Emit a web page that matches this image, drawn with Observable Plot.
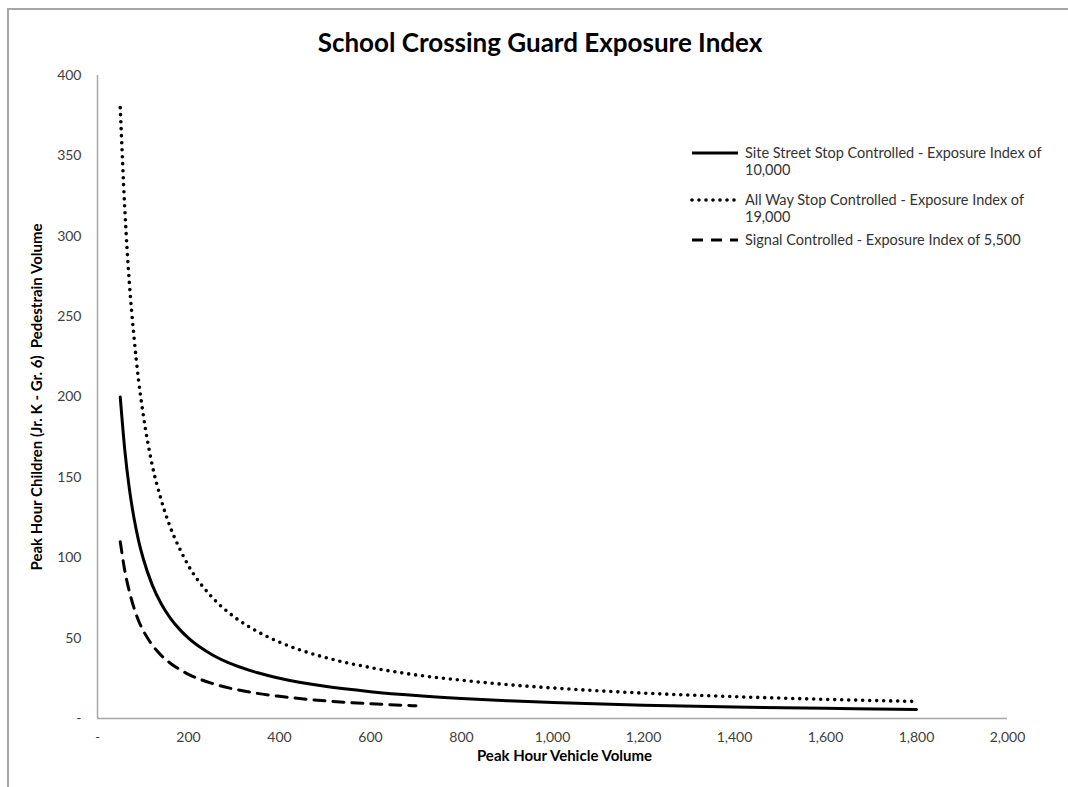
<!DOCTYPE html>
<html>
<head>
<meta charset="utf-8">
<script src="https://cdn.jsdelivr.net/npm/d3@7"></script>
<script src="https://cdn.jsdelivr.net/npm/@observablehq/plot@0.6"></script>
<style>
  html, body { margin: 0; padding: 0; background: #fff; }
  #page { position: relative; width: 1068px; height: 787px; overflow: hidden; font-family: Lato, "Open Sans", sans-serif; }
  #frame { position: absolute; left: 7px; top: 8px; width: 1100px; height: 800px; border-left: 2px solid #a6a6a6; border-top: 2px solid #a6a6a6; }
  #title { position: absolute; top: 26px; left: 0; width: 1080px; text-align: center; font-weight: bold; font-size: 26px; color: #000; }
  #chart { position: absolute; left: 0; top: 60px; }
  #legend { position: absolute; left: 690px; top: 144px; font-size: 14.5px; color: #333; }
  .item { display: flex; align-items: flex-start; margin-bottom: 13px; }
  .item:nth-child(2) { margin-bottom: 6px; }
  .item svg { flex: none; margin-right: 5px; margin-top: 2px; }
  .item div { line-height: 17px; width: 305px; }
</style>
</head>
<body>
<div id="page">
  <div id="frame"></div>
  <div id="title">School Crossing Guard Exposure Index</div>
  <div id="chart"></div>
  <div id="legend"></div>
</div>
<script>
// Series names
const seriesNames = [
  "Site Street Stop Controlled - Exposure Index of 10,000",
  "All Way Stop Controlled - Exposure Index of 19,000",
  "Signal Controlled - Exposure Index of 5,500"
];
// Peak hour vehicle volume (x)
const volumes = [50, 60, 70, 80, 90, 100, 120, 140, 160, 180, 200, 250, 300, 350, 400, 500, 600, 700, 800, 900, 1000, 1200, 1400, 1600, 1800];
const signalVolumes = [50, 60, 70, 80, 90, 100, 120, 140, 160, 180, 200, 250, 300, 350, 400, 500, 600, 700];
// Peak hour children pedestrian volume (y)
const siteStreet = [200, 167, 143, 125, 111, 100, 83.3, 71.4, 62.5, 55.6, 50, 40, 33.3, 28.6, 25, 20, 16.7, 14.3, 12.5, 11.1, 10, 8.3, 7.1, 6.3, 5.6];
const allWay = [380, 317, 271, 238, 211, 190, 158, 136, 119, 106, 95, 76, 63.3, 54.3, 47.5, 38, 31.7, 27.1, 23.8, 21.1, 19, 15.8, 13.6, 11.9, 10.6];
const signal = [110, 92, 79, 69, 61, 55, 45.8, 39.3, 34.4, 30.6, 27.5, 22, 18.3, 15.7, 13.8, 11, 9.2, 7.9];
// Ticks
const xTicks = [0, 200, 400, 600, 800, 1000, 1200, 1400, 1600, 1800, 2000];
const yTicks = [0, 50, 100, 150, 200, 250, 300, 350, 400];
const xLabel = "Peak Hour Vehicle Volume";
const yLabel = "Peak Hour Children (Jr. K - Gr. 6)  Pedestrain Volume";

const styles = [
  {stroke: "#000", strokeWidth: 3},
  {stroke: "#000", strokeWidth: 3.6, strokeDasharray: "0 7", strokeLinecap: "round"},
  {stroke: "#000", strokeWidth: 3, strokeDasharray: "11 8"}
];

const rows = (xs, ys, s) => xs.map((x, i) => ({x, y: ys[i], s}));
const data1 = rows(volumes, siteStreet, seriesNames[0]);
const data2 = rows(volumes, allWay, seriesNames[1]);
const data3 = rows(signalVolumes, signal, seriesNames[2]);

const fmt = d => d === 0 ? "-" : d3.format(",")(d);

const plot = Plot.plot({
  width: 1068,
  height: 720,
  marginLeft: 97,
  marginRight: 61,
  marginTop: 15,
  marginBottom: 62,
  style: {fontFamily: "Lato, 'Open Sans', sans-serif", fontSize: "14px", color: "#404040", background: "transparent"},
  x: {domain: [0, 2000], ticks: xTicks, tickFormat: fmt},
  y: {domain: [0, 400], ticks: yTicks, tickFormat: fmt},
  marks: [
    Plot.axisX({ticks: xTicks, tickFormat: fmt, tickSize: 0, tickPadding: 14, label: null, fill: "#404040", fontSize: 14}),
    Plot.axisY({ticks: yTicks, tickFormat: fmt, tickSize: 0, tickPadding: 16, label: null, fill: "#404040", fontSize: 14}),
    Plot.ruleY([0], {stroke: "#a6a6a6", strokeWidth: 1.5}),
    Plot.ruleX([0], {stroke: "#a6a6a6", strokeWidth: 1.5}),
    Plot.line(data2, {x: "x", y: "y", curve: "monotone-x", ...styles[1]}),
    Plot.line(data1, {x: "x", y: "y", curve: "monotone-x", ...styles[0]}),
    Plot.line(data3, {x: "x", y: "y", curve: "monotone-x", ...styles[2]}),
    Plot.text([xLabel], {frameAnchor: "bottom", dy: 42, dx: 12, text: d => d, fontWeight: "bold", fontSize: 15, fill: "#000", textAnchor: "middle"}),
    Plot.text([yLabel], {frameAnchor: "left", rotate: -90, dx: -60, text: d => d, fontWeight: "bold", fontSize: 15, fill: "#000", textAnchor: "middle"})
  ]
});
document.getElementById("chart").appendChild(plot);

// Legend
const legend = d3.select("#legend");
seriesNames.forEach((name, i) => {
  const item = legend.append("div").attr("class", "item");
  const svg = item.append("svg").attr("width", 50).attr("height", 14);
  const st = styles[i];
  svg.append("line").attr("x1", 2).attr("x2", 48).attr("y1", 7).attr("y2", 7)
    .attr("stroke", st.stroke).attr("stroke-width", st.strokeWidth)
    .attr("stroke-dasharray", st.strokeDasharray || null)
    .attr("stroke-linecap", st.strokeLinecap || null);
  item.append("div").text(name);
});
</script>
</body>
</html>
